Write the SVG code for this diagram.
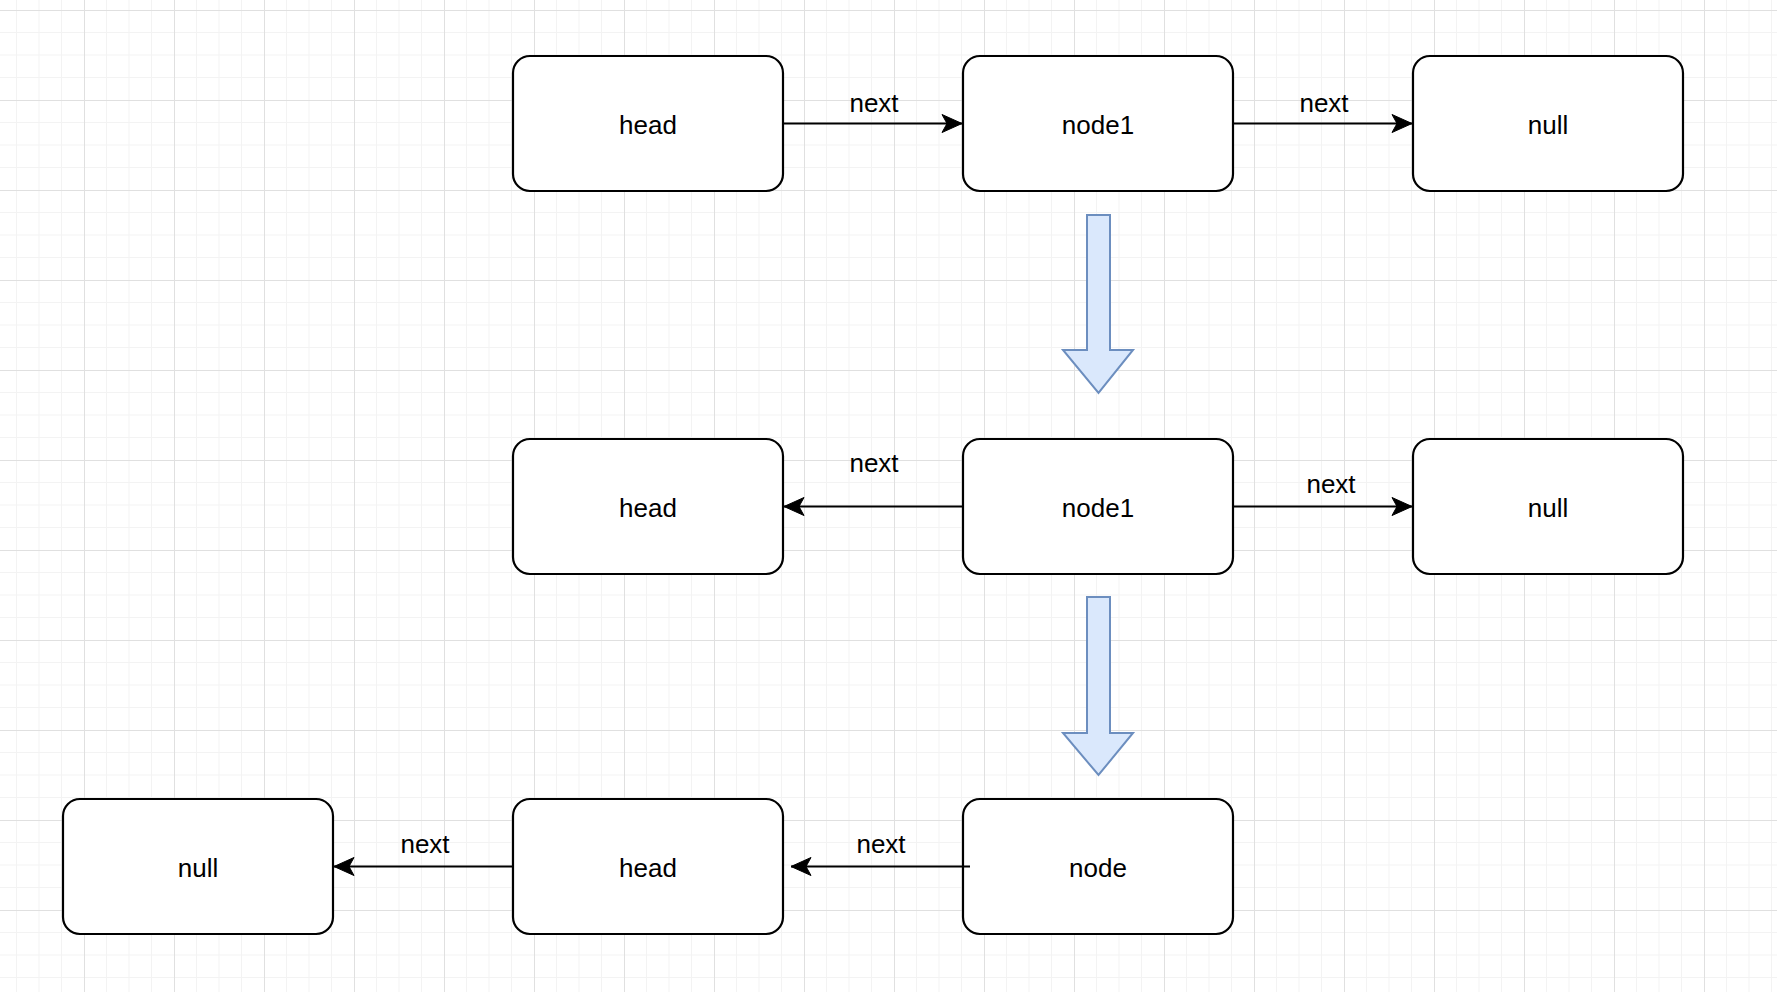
<svg xmlns="http://www.w3.org/2000/svg" width="1777" height="992" viewBox="0 0 1777 992">
<style>
.box{fill:#ffffff;stroke:#000000;stroke-width:2.2}
.t{font-family:"Liberation Sans",Arial,sans-serif;font-size:26px;fill:#000;text-anchor:middle}
.edge{stroke:#000;stroke-width:2;fill:none}
.big{fill:#dae8fc;stroke:#6c8ebf;stroke-width:2}
</style>
<defs>
<pattern id="grid" patternUnits="userSpaceOnUse" x="-6" y="10" width="90" height="90">
<path d="M22.5 0V90M45 0V90M67.5 0V90M0 22.5H90M0 45H90M0 67.5H90" stroke="#f3f3f3" stroke-width="1" fill="none"/>
<path d="M0.5 0V90M0 0.5H90" stroke="#e0e0e0" stroke-width="1" fill="none"/>
</pattern>
<marker id="arr" markerUnits="userSpaceOnUse" markerWidth="24" markerHeight="22" viewBox="0 0 24 22" refX="21" refY="11" orient="auto">
<path d="M1 2 L21 11 L1 20 L6 11 Z" fill="#000" stroke="#000" stroke-width="1"/>
</marker>
</defs>
<rect width="1777" height="992" fill="#ffffff"/>
<rect width="1777" height="992" fill="url(#grid)"/>

<g id="transform1">
<path class="big" d="M1087 215H1110V350H1133L1098.5 393L1063 350H1087Z"/>
</g>
<g id="transform2">
<path class="big" d="M1087 597H1110V733H1133L1098.5 775L1063 733H1087Z"/>
</g>

<g id="r1-head"><rect class="box" x="513" y="56" width="270" height="135" rx="17"/><text class="t" x="648" y="133.5">head</text></g>
<g id="r1-node1"><rect class="box" x="963" y="56" width="270" height="135" rx="17"/><text class="t" x="1098" y="133.5">node1</text></g>
<g id="r1-null"><rect class="box" x="1413" y="56" width="270" height="135" rx="17"/><text class="t" x="1548" y="133.5">null</text></g>

<g id="r2-head"><rect class="box" x="513" y="439" width="270" height="135" rx="17"/><text class="t" x="648" y="516.5">head</text></g>
<g id="r2-node1"><rect class="box" x="963" y="439" width="270" height="135" rx="17"/><text class="t" x="1098" y="516.5">node1</text></g>
<g id="r2-null"><rect class="box" x="1413" y="439" width="270" height="135" rx="17"/><text class="t" x="1548" y="516.5">null</text></g>

<g id="r3-null"><rect class="box" x="63" y="799" width="270" height="135" rx="17"/><text class="t" x="198" y="876.5">null</text></g>
<g id="r3-head"><rect class="box" x="513" y="799" width="270" height="135" rx="17"/><text class="t" x="648" y="876.5">head</text></g>
<g id="r3-node"><rect class="box" x="963" y="799" width="270" height="135" rx="17"/><text class="t" x="1098" y="876.5">node</text></g>

<g id="connectors">
<line class="edge" x1="784" y1="123.5" x2="962" y2="123.5" marker-end="url(#arr)"/>
<text class="t" x="874" y="112">next</text>
<line class="edge" x1="1234" y1="123.5" x2="1412" y2="123.5" marker-end="url(#arr)"/>
<text class="t" x="1324" y="112">next</text>
<line class="edge" x1="962" y1="506.5" x2="784" y2="506.5" marker-end="url(#arr)"/>
<text class="t" x="874" y="472">next</text>
<line class="edge" x1="1234" y1="506.5" x2="1412" y2="506.5" marker-end="url(#arr)"/>
<text class="t" x="1331" y="493">next</text>
<line class="edge" x1="512" y1="866.5" x2="334" y2="866.5" marker-end="url(#arr)"/>
<text class="t" x="425" y="853">next</text>
<line class="edge" x1="970" y1="866.5" x2="791" y2="866.5" marker-end="url(#arr)"/>
<text class="t" x="881" y="853">next</text>
</g>
</svg>
